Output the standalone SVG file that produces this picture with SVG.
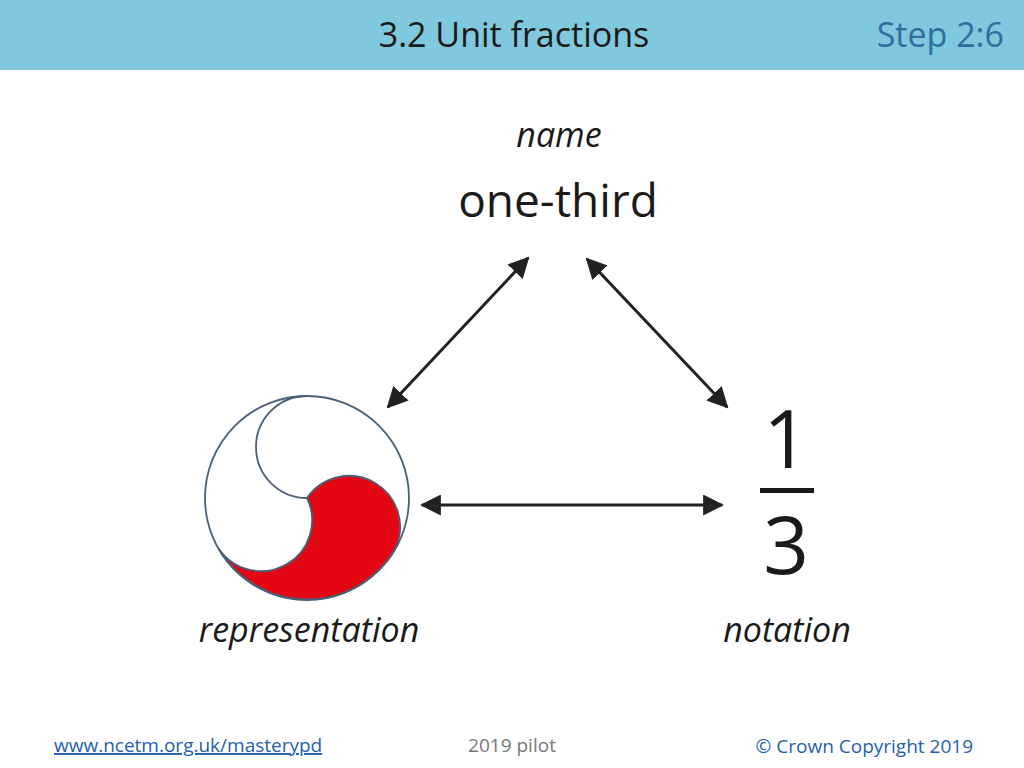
<svg xmlns="http://www.w3.org/2000/svg" width="1024" height="768" viewBox="0 0 1024 768">
<defs>
<style>
text{font-family:"Open Sans","Liberation Sans",sans-serif;fill:#1a1a1a}
.it{font-style:italic;font-size:34px}
.ln{stroke:#222;stroke-width:3;fill:none}
.ft{font-size:19px}
</style>
<marker id="ah" viewBox="0 0 10 10" refX="9" refY="5" markerWidth="7" markerHeight="7" markerUnits="strokeWidth" orient="auto-start-reverse"><path d="M0,0 L10,5 L0,10 Z" fill="#222"/></marker>
</defs>
<rect width="1024" height="768" fill="#fff"/>
<rect width="1024" height="70" fill="#80c8de"/>
<text x="514" y="47" font-size="34" text-anchor="middle">3.2 Unit fractions</text>
<text x="1004" y="47" font-size="34" text-anchor="end" style="fill:#2f6f9f">Step 2:6</text>
<g id="name"><text class="it" x="559" y="147" text-anchor="middle">name</text>
<text x="558" y="217" font-size="46" text-anchor="middle">one-third</text></g>
<g id="representation">
<circle cx="307" cy="498" r="102" fill="#fff" stroke="#4a6078" stroke-width="1.8"/>
<path d="M307,498 A51,51 0 0 1 395,549 A102,102 0 0 1 219,549 A51,51 0 0 0 307,498 Z" fill="#e30613" stroke="#4a6078" stroke-width="1.8"/>
<path d="M307,396 A51,51 0 0 0 307,498" fill="none" stroke="#4a6078" stroke-width="1.8"/>
<text class="it" x="309" y="642" text-anchor="middle">representation</text></g>
<g id="notation">
<text x="786" y="468" font-size="80" text-anchor="middle">1</text>
<rect x="760" y="488" width="54" height="5" fill="#1a1a1a"/>
<text x="786" y="574" font-size="80" text-anchor="middle">3</text>
<text class="it" x="787" y="642" text-anchor="middle">notation</text></g>
<g id="connectors">
<line class="ln" x1="528" y1="258" x2="388" y2="407" marker-start="url(#ah)" marker-end="url(#ah)"/>
<line class="ln" x1="587" y1="259" x2="727" y2="407" marker-start="url(#ah)" marker-end="url(#ah)"/>
<line class="ln" x1="422" y1="505" x2="722" y2="505" marker-start="url(#ah)" marker-end="url(#ah)"/>
</g>
<text class="ft" x="54" y="752" style="fill:#1f5fae" text-decoration="underline">www.ncetm.org.uk/masterypd</text>
<text class="ft" x="512" y="752" text-anchor="middle" style="fill:#777">2019 pilot</text>
<text class="ft" x="973" y="753" text-anchor="end" style="fill:#1f5fae">© Crown Copyright 2019</text>
</svg>
